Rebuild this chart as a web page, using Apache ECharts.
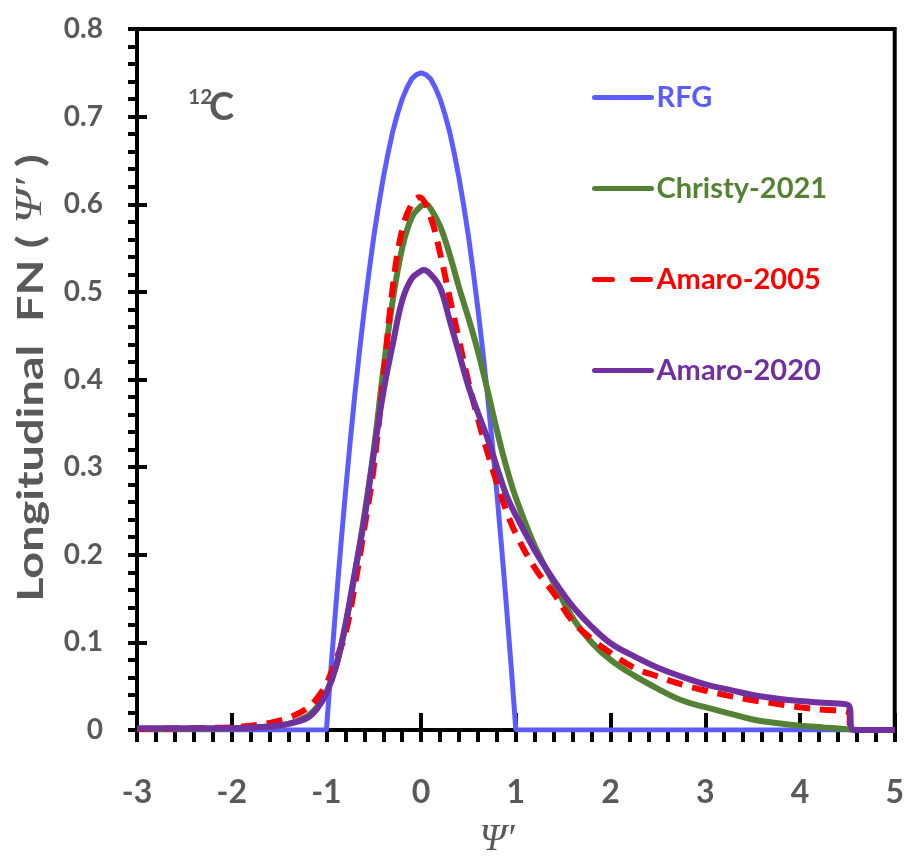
<!DOCTYPE html>
<html>
<head>
<meta charset="utf-8">
<script src="https://cdn.jsdelivr.net/npm/echarts@6/dist/echarts.min.js"></script>
<style>html,body{margin:0;padding:0;background:#fff;}#c{width:907px;height:859px;}</style>
</head>
<body>
<div id="c"></div>
<script>
// ---- data ----
const xTicks = [-3, -2, -1, 0, 1, 2, 3, 4, 5];
const yTicks = [0, 0.1, 0.2, 0.3, 0.4, 0.5, 0.6, 0.7, 0.8];

const rfgPsi = [-3, -1, -0.97, -0.95, -0.9, -0.85, -0.8, -0.75, -0.7, -0.65, -0.6, -0.55, -0.5, -0.45, -0.4, -0.35, -0.3, -0.25, -0.2, -0.15, -0.1, -0.05, 0, 0.05, 0.1, 0.15, 0.2, 0.25, 0.3, 0.35, 0.4, 0.45, 0.5, 0.55, 0.6, 0.65, 0.7, 0.75, 0.8, 0.85, 0.9, 0.95, 0.97, 1, 5];
const rfgVal = [0, 0, 0.044, 0.073, 0.142, 0.208, 0.27, 0.328, 0.383, 0.433, 0.48, 0.523, 0.563, 0.598, 0.63, 0.658, 0.683, 0.703, 0.72, 0.733, 0.743, 0.748, 0.75, 0.748, 0.743, 0.733, 0.72, 0.703, 0.683, 0.658, 0.63, 0.598, 0.563, 0.523, 0.48, 0.433, 0.383, 0.328, 0.27, 0.208, 0.142, 0.073, 0.044, 0, 0];

const christyPsi = [-3, -2.5, -2, -1.6, -1.4, -1.2, -1.1, -1.0, -0.9, -0.8, -0.7, -0.6, -0.5, -0.4, -0.3, -0.2, -0.1, 0, 0.05, 0.1, 0.2, 0.3, 0.4, 0.5, 0.6, 0.7, 0.8, 0.9, 1.0, 1.2, 1.4, 1.6, 1.8, 2.0, 2.25, 2.5, 2.75, 3.0, 3.25, 3.5, 3.75, 4.0, 4.25, 4.5, 4.6, 5];
const christyVal = [0.001, 0.001, 0.002, 0.004, 0.007, 0.016, 0.026, 0.043, 0.072, 0.118, 0.178, 0.245, 0.32, 0.41, 0.49, 0.55, 0.585, 0.598, 0.600, 0.595, 0.575, 0.543, 0.505, 0.47, 0.432, 0.388, 0.342, 0.30, 0.265, 0.21, 0.168, 0.128, 0.1, 0.08, 0.062, 0.047, 0.034, 0.026, 0.019, 0.012, 0.008, 0.005, 0.003, 0.001, 0, 0];

const amaro05Psi = [-3, -2.5, -2, -1.8, -1.6, -1.4, -1.2, -1.1, -1.0, -0.9, -0.8, -0.7, -0.6, -0.5, -0.4, -0.3, -0.2, -0.1, -0.02, 0.1, 0.2, 0.3, 0.4, 0.5, 0.6, 0.7, 0.8, 0.9, 1.0, 1.2, 1.4, 1.6, 1.8, 2.0, 2.25, 2.5, 2.75, 3.0, 3.25, 3.5, 3.75, 4.0, 4.25, 4.5, 4.55, 5];
const amaro05Val = [0.001, 0.002, 0.003, 0.005, 0.008, 0.014, 0.025, 0.036, 0.053, 0.08, 0.11, 0.165, 0.23, 0.30, 0.40, 0.505, 0.571, 0.60, 0.608, 0.585, 0.544, 0.494, 0.445, 0.397, 0.355, 0.317, 0.282, 0.25, 0.224, 0.185, 0.156, 0.124, 0.104, 0.088, 0.071, 0.061, 0.052, 0.045, 0.039, 0.034, 0.030, 0.026, 0.023, 0.021, 0, 0];

const amaro20Psi = [-3, -2.5, -2, -1.6, -1.4, -1.2, -1.1, -1.0, -0.9, -0.8, -0.7, -0.6, -0.5, -0.4, -0.3, -0.2, -0.1, 0, 0.03, 0.1, 0.2, 0.3, 0.4, 0.5, 0.6, 0.7, 0.8, 0.9, 1.0, 1.2, 1.4, 1.6, 1.8, 2.0, 2.25, 2.5, 2.75, 3.0, 3.25, 3.5, 3.75, 4.0, 4.25, 4.5, 4.57, 5];
const amaro20Val = [0.002, 0.002, 0.002, 0.004, 0.007, 0.014, 0.024, 0.042, 0.072, 0.12, 0.18, 0.24, 0.315, 0.385, 0.44, 0.49, 0.515, 0.524, 0.525, 0.52, 0.505, 0.468, 0.43, 0.392, 0.362, 0.333, 0.30, 0.268, 0.245, 0.205, 0.171, 0.141, 0.118, 0.099, 0.084, 0.071, 0.061, 0.052, 0.046, 0.040, 0.036, 0.033, 0.031, 0.029, 0, 0];

const seriesNames = ['RFG', 'Christy-2021', 'Amaro-2005', 'Amaro-2020'];
const seriesColors = ['#5b5bff', '#548235', '#ff0000', '#7030a0'];

function pairs(xs, ys) { return xs.map((x, i) => [x, ys[i]]); }

const grey = '#595959';
const FONT = 'Lato, "Open Sans", sans-serif';

const chart = echarts.init(document.getElementById('c'), null, {renderer: 'canvas'});

const baseAxis = {
  type: 'value',
  splitLine: {show: false},
  axisLine: {show: false, onZero: false},
  axisLabel: {show: false},
  axisTick: {show: false}
};

const option = {
  animation: false,
  backgroundColor: '#fff',
  grid: {left: 137, right: 10, top: 29, bottom: 129, show: true, borderColor: '#000', borderWidth: 4, containLabel: false},
  xAxis: [
    Object.assign({}, baseAxis, {
      min: xTicks[0], max: xTicks[xTicks.length - 1], interval: 1, position: 'bottom',
      axisLine: {show: true, onZero: false, lineStyle: {color: '#000', width: 4}},
      axisTick: {show: true, inside: true, length: 17, lineStyle: {color: '#000', width: 4}},
      axisLabel: {show: true, margin: 47, color: grey, fontFamily: FONT, fontWeight: 'bold', fontSize: 32, showMinLabel: true, showMaxLabel: true}
    }),
    Object.assign({}, baseAxis, {
      min: xTicks[0], max: xTicks[xTicks.length - 1], interval: 0.2, position: 'bottom',
      axisTick: {show: true, inside: false, length: 12, lineStyle: {color: '#000', width: 4}}
    })
  ],
  yAxis: [
    Object.assign({}, baseAxis, {
      min: yTicks[0], max: yTicks[yTicks.length - 1], interval: 0.1, position: 'left',
      axisLine: {show: true, onZero: false, lineStyle: {color: '#000', width: 4}},
      axisTick: {show: true, inside: true, length: 10, lineStyle: {color: '#000', width: 4}},
      axisLabel: {show: true, margin: 34, color: grey, fontFamily: FONT, fontWeight: 'bold', fontSize: 28, showMinLabel: true, showMaxLabel: true}
    }),
    Object.assign({}, baseAxis, {
      min: yTicks[0], max: yTicks[yTicks.length - 1], interval: 0.02, position: 'left',
      axisTick: {show: true, inside: false, length: 9, lineStyle: {color: '#000', width: 4}}
    })
  ],
  legend: {
    orient: 'vertical', left: 587, top: 78, itemWidth: 57, itemHeight: 14, itemGap: 62,
    selectedMode: false,
    itemStyle: {color: 'transparent', borderColor: 'transparent', borderWidth: 0, opacity: 0},
    lineStyle: {width: 5, cap: 'round'},
    textStyle: {fontFamily: FONT, fontWeight: 'bold', fontSize: 29},
    data: seriesNames.map((n, i) => {
      const d = {name: n, textStyle: {color: seriesColors[i], fontFamily: FONT, fontWeight: 'bold', fontSize: 29}};
      if (i === 2) d.lineStyle = {type: [18, 20], width: 5};
      return d;
    })
  },
  series: [
    {name: seriesNames[0], type: 'line', data: pairs(rfgPsi, rfgVal), symbol: 'none', showSymbol: false, smooth: false,
     lineStyle: {color: seriesColors[0], width: 5}, itemStyle: {color: seriesColors[0]}},
    {name: seriesNames[1], type: 'line', data: pairs(christyPsi, christyVal), symbol: 'none', showSymbol: false, smooth: 0.4,
     lineStyle: {color: seriesColors[1], width: 6}, itemStyle: {color: seriesColors[1]}},
    {name: seriesNames[2], type: 'line', data: pairs(amaro05Psi, amaro05Val), symbol: 'none', showSymbol: false, smooth: 0.4,
     lineStyle: {color: seriesColors[2], width: 6, type: [16, 10]}, itemStyle: {color: seriesColors[2]}},
    {name: seriesNames[3], type: 'line', data: pairs(amaro20Psi, amaro20Val), symbol: 'none', showSymbol: false, smooth: 0.4,
     lineStyle: {color: seriesColors[3], width: 6}, itemStyle: {color: seriesColors[3]}}
  ],
  graphic: [
    {type: 'text', x: 31, y: 378, rotation: Math.PI / 2, scaleX: 1.3, z: 10,
     style: {
       text: '{a|Longitudinal  FN ( }{b|Ψ′}{a| )}',
       align: 'center', verticalAlign: 'middle',
       rich: {
         a: {fontFamily: FONT, fontWeight: 'bold', fontSize: 36, fill: grey},
         b: {fontFamily: '"Liberation Serif", "DejaVu Serif", serif', fontStyle: 'italic', fontSize: 38, fill: grey}
       }
     }},
    {type: 'text', x: 497, y: 840, z: 10,
     style: {text: 'Ψ′', align: 'center', verticalAlign: 'middle', fontFamily: '"Liberation Serif", "DejaVu Serif", serif', fontStyle: 'italic', fontSize: 38, fill: grey}},
    {type: 'text', x: 188, y: 97, z: 10,
     style: {text: '12', align: 'left', verticalAlign: 'middle', fontFamily: FONT, fontWeight: 'bold', fontSize: 21, fill: grey}},
    {type: 'text', x: 209, y: 108, z: 10,
     style: {text: 'C', align: 'left', verticalAlign: 'middle', fontFamily: FONT, fontWeight: 'bold', fontSize: 38, fill: grey}}
  ]
};
chart.setOption(option);
</script>
</body>
</html>
